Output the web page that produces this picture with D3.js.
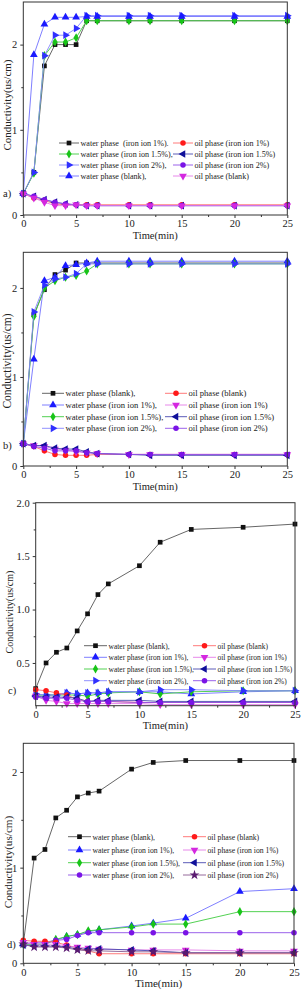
<!DOCTYPE html>
<html>
<head>
<meta charset="utf-8">
<script src="https://cdn.jsdelivr.net/npm/d3@7"></script>
<style>
body { margin: 0; background: #fff; }
svg { display: block; font-family: "Liberation Serif", "Times New Roman", serif; }
</style>
</head>
<body>
<svg width="302" height="992"></svg>
<script>
// sampling times (min), shared by every series
var times = [0, 1, 2, 3, 4, 5, 6, 7, 10, 12, 15, 20, 25];
var xTicks = [0, 5, 10, 15, 20, 25];

// panel a
var aWater1     = [0.25, 0.50, 1.75, 2.00, 2.00, 2.00, 2.28, 2.28, 2.28, 2.28, 2.28, 2.28, 2.28];
var aWater15    = [0.25, 0.49, 1.87, 2.03, 2.03, 2.08, 2.28, 2.28, 2.28, 2.28, 2.28, 2.28, 2.28];
var aWater2     = [0.25, 0.50, 1.87, 2.11, 2.11, 2.19, 2.34, 2.34, 2.34, 2.34, 2.34, 2.34, 2.34];
var aWaterBlank = [0.25, 1.88, 2.24, 2.32, 2.32, 2.32, 2.33, 2.33, 2.33, 2.33, 2.33, 2.33, 2.33];
var aOil1       = [0.25, 0.20, 0.17, 0.13, 0.12, 0.12, 0.12, 0.12, 0.12, 0.12, 0.12, 0.12, 0.12];
var aOil15      = [0.25, 0.22, 0.18, 0.15, 0.13, 0.12, 0.11, 0.11, 0.11, 0.11, 0.11, 0.11, 0.11];
var aOil2       = [0.25, 0.22, 0.18, 0.15, 0.13, 0.12, 0.11, 0.11, 0.11, 0.11, 0.11, 0.11, 0.11];
var aOilBlank   = [0.25, 0.20, 0.15, 0.11, 0.11, 0.12, 0.11, 0.11, 0.11, 0.11, 0.11, 0.11, 0.11];

// panel b
var bWaterBlank = [0.25, 1.70, 1.98, 2.15, 2.20, 2.28, 2.28, 2.28, 2.28, 2.28, 2.28, 2.28, 2.28];
var bWater1     = [0.25, 1.20, 2.08, 2.12, 2.25, 2.26, 2.28, 2.30, 2.30, 2.30, 2.30, 2.30, 2.30];
var bWater15    = [0.25, 1.68, 2.00, 2.08, 2.12, 2.14, 2.19, 2.27, 2.27, 2.27, 2.27, 2.27, 2.27];
var bWater2     = [0.25, 1.73, 2.03, 2.10, 2.12, 2.16, 2.27, 2.27, 2.27, 2.27, 2.27, 2.27, 2.27];
var bOilBlank   = [0.25, 0.22, 0.17, 0.13, 0.12, 0.12, 0.12, 0.13, 0.13, 0.13, 0.13, 0.13, 0.13];
var bOil1       = [0.25, 0.23, 0.22, 0.19, 0.18, 0.16, 0.15, 0.14, 0.13, 0.13, 0.13, 0.13, 0.13];
var bOil15      = [0.25, 0.23, 0.23, 0.20, 0.19, 0.19, 0.16, 0.14, 0.13, 0.12, 0.12, 0.12, 0.12];
var bOil2       = [0.25, 0.22, 0.20, 0.17, 0.17, 0.17, 0.15, 0.14, 0.13, 0.13, 0.13, 0.13, 0.13];

// panel c
var cWaterBlank = [0.26, 0.50, 0.60, 0.64, 0.80, 0.96, 1.14, 1.24, 1.41, 1.63, 1.75, 1.77, 1.80];
var cWater1     = [0.20, 0.20, 0.20, 0.22, 0.21, 0.22, 0.22, 0.23, 0.23, 0.23, 0.21, 0.23, 0.24];
var cWater15    = [0.20, 0.20, 0.20, 0.20, 0.20, 0.19, 0.21, 0.22, 0.23, 0.21, 0.23, 0.24, 0.24];
var cWater2     = [0.21, 0.20, 0.20, 0.22, 0.21, 0.22, 0.22, 0.23, 0.23, 0.25, 0.25, 0.24, 0.24];
var cOilBlank   = [0.25, 0.24, 0.22, 0.20, 0.16, 0.14, 0.14, 0.14, 0.13, 0.13, 0.13, 0.13, 0.13];
var cOil1       = [0.19, 0.15, 0.14, 0.12, 0.12, 0.12, 0.12, 0.12, 0.12, 0.11, 0.11, 0.11, 0.11];
var cOil15      = [0.19, 0.18, 0.18, 0.18, 0.17, 0.14, 0.15, 0.15, 0.15, 0.14, 0.14, 0.14, 0.14];
var cOil2       = [0.18, 0.17, 0.17, 0.17, 0.15, 0.14, 0.14, 0.14, 0.13, 0.13, 0.13, 0.13, 0.13];

// panel d
var dWaterBlank = [0.20, 1.10, 1.19, 1.52, 1.60, 1.74, 1.78, 1.80, 2.03, 2.10, 2.12, 2.12, 2.12];
var dWater1     = [0.20, 0.20, 0.20, 0.24, 0.28, 0.30, 0.33, 0.35, 0.39, 0.42, 0.47, 0.75, 0.78];
var dWater15    = [0.20, 0.20, 0.20, 0.25, 0.28, 0.30, 0.34, 0.35, 0.38, 0.41, 0.41, 0.54, 0.54];
var dWater2     = [0.20, 0.22, 0.22, 0.24, 0.25, 0.29, 0.32, 0.32, 0.32, 0.32, 0.32, 0.32, 0.32];
var dOilBlank   = [0.24, 0.23, 0.23, 0.22, 0.19, 0.16, 0.13, 0.10, 0.10, 0.10, 0.10, 0.10, 0.10];
var dOil1       = [0.22, 0.20, 0.20, 0.20, 0.18, 0.17, 0.16, 0.15, 0.14, 0.14, 0.14, 0.13, 0.13];
var dOil15      = [0.19, 0.18, 0.18, 0.18, 0.17, 0.15, 0.15, 0.15, 0.14, 0.13, 0.11, 0.11, 0.11];
var dOil2       = [0.20, 0.17, 0.17, 0.17, 0.16, 0.14, 0.13, 0.13, 0.12, 0.12, 0.11, 0.11, 0.11];

var wLabels = ["water phase (blank),", "water phase (iron ion 1%),", "water phase (iron ion 1.5%),", "water phase (iron ion 2%),"];
var oLabels = ["oil phase (blank)", "oil phase (iron ion 1%)", "oil phase (iron ion 1.5%)", "oil phase (iron ion 2%)"];
var aWLabels = ["water phase  (iron ion 1%).", "water phase (iron ion 1.5%),", "water phase (iron ion 2%),", "water phase (blank),"];
var aOLabels = ["oil phase (iron ion 1%)", "oil phase (iron ion 1.5%)", "oil phase (iron ion 2%)", "oil phase (blank)"];

// marker styles: [symbol, rotation, area, fill, line colour]
var st = {
    blackSq:  [d3.symbolSquare, 0, 22, "#111", "#555"],
    redCirc:  [d3.symbolCircle, 0, 24, "#ff1a1a", "#ff6b6b"],
    blueUp:   [d3.symbolTriangle, 0, 26, "#1a1aff", "#7070ff"],
    greenDia: [d3.symbolDiamond, 0, 24, "#18c418", "#40cc40"],
    blueRight:[d3.symbolTriangle, 90, 26, "#3030ff", "#8585ff"],
    navyLeft: [d3.symbolTriangle, -90, 26, "#10109a", "#4a4ab0"],
    purpCirc: [d3.symbolCircle, 0, 24, "#7a14e6", "#9050e8"],
    magDown:  [d3.symbolTriangle, 180, 26, "#d428e0", "#e47ae8"],
    darkStar: [d3.symbolStar, 0, 30, "#5a1a70", "#8a5a90"]
};

var svg = d3.select("svg");

function marker(g, s, x, y) {
    g.append("path")
        .attr("d", d3.symbol().type(s[0]).size(s[2])())
        .attr("transform", "translate(" + x + "," + y + ") rotate(" + s[1] + ")")
        .attr("fill", s[3]);
}

function drawPanel(p) {
    var x = d3.scaleLinear().domain([0, 25]).range([p.left, p.right]);
    var y = d3.scaleLinear().domain(p.yDomain).range([p.bottom, p.top]);
    var g = svg.append("g");

    var line = d3.line()
        .x(function(d, i) { return x(times[i]); })
        .y(function(d) { return y(d); });

    // series (water first, then oil, in legend order)
    p.series.forEach(function(s) {
        g.append("path").attr("d", line(s.values))
            .attr("fill", "none").attr("stroke", s.style[4]).attr("stroke-width", 0.9);
        s.values.forEach(function(v, i) { marker(g, s.style, x(times[i]), y(v)); });
    });

    // frame
    g.append("rect").attr("x", p.left).attr("y", p.top)
        .attr("width", p.right - p.left).attr("height", p.bottom - p.top)
        .attr("fill", "none").attr("stroke", "#333").attr("stroke-width", 1);

    // axes
    g.append("g").attr("transform", "translate(0," + p.bottom + ")")
        .call(d3.axisBottom(x).tickValues(xTicks).tickSize(3).tickPadding(2).tickFormat(d3.format("d")));
    g.append("g").attr("transform", "translate(0," + p.bottom + ")")
        .call(d3.axisBottom(x).tickValues(d3.range(2.5, 25, 5)).tickSize(2).tickFormat(""));
    g.append("g").attr("transform", "translate(" + p.left + ",0)")
        .call(d3.axisLeft(y).tickValues(p.yTicks).tickSize(3).tickPadding(3).tickFormat(d3.format(p.yFormat)));
    g.append("g").attr("transform", "translate(" + p.left + ",0)")
        .call(d3.axisLeft(y).tickValues(p.yMinor).tickSize(2).tickFormat(""));
    g.selectAll(".domain").remove();
    g.selectAll(".tick line").attr("stroke", "#333");
    g.selectAll(".tick text").attr("font-family", "Liberation Serif").attr("font-size", 10.5).attr("fill", "#222");

    g.append("text").attr("x", (p.left + p.right) / 2).attr("y", p.bottom + 23.5)
        .attr("text-anchor", "middle").attr("font-size", p.xtSize).attr("fill", "#222")
        .text("Time(min)");
    g.append("text")
        .attr("transform", "translate(" + p.ytX + "," + p.ytY + ") rotate(-90)")
        .attr("text-anchor", "middle").attr("font-size", p.ytSize).attr("fill", "#222")
        .text("Conductivity(us/cm)");
    g.append("text").attr("x", p.tagX).attr("y", p.tagY).attr("font-size", 10.5).attr("fill", "#222").text(p.tag);

    // legend: two columns, water | oil
    var half = p.series.length / 2;
    for (var r = 0; r < half; r++) {
        [[p.series[r], p.lx1], [p.series[r + half], p.lx2]].forEach(function(e) {
            var s = e[0], lx = e[1], ly = p.rows[r];
            g.append("line").attr("x1", lx).attr("x2", lx + p.lLen).attr("y1", ly).attr("y2", ly)
                .attr("stroke", s.style[4]).attr("stroke-width", 0.9);
            marker(g, s.style, lx + p.lLen / 2, ly);
            g.append("text").attr("x", lx + p.lLen + 1.5).attr("y", ly + 2.8)
                .attr("font-size", p.lSize).attr("fill", "#222").attr("xml:space", "preserve").text(s.label);
        });
    }
}

function ser(values, label, style) { return { values: values, label: label, style: style }; }

drawPanel({
    left: 23.3, right: 287.3, top: 2, bottom: 215, yDomain: [0, 2.5],
    yTicks: [0, 1, 2], yMinor: [0.5, 1.5], yFormat: "d",
    xtSize: 10.5, ytX: 10.5, ytY: 105, ytSize: 11, tag: "a)", tagX: 3, tagY: 197,
    lx1: 59, lx2: 173, lLen: 20, lSize: 8.1, rows: [143, 154, 165, 176],
    series: [
        ser(aWater1, aWLabels[0], st.blackSq), ser(aWater15, aWLabels[1], st.greenDia),
        ser(aWater2, aWLabels[2], st.blueRight), ser(aWaterBlank, aWLabels[3], st.blueUp),
        ser(aOil1, aOLabels[0], st.redCirc), ser(aOil15, aOLabels[1], st.navyLeft),
        ser(aOil2, aOLabels[2], st.purpCirc), ser(aOilBlank, aOLabels[3], st.magDown)
    ]
});

drawPanel({
    left: 23.3, right: 287.3, top: 252.3, bottom: 466, yDomain: [0, 2.4],
    yTicks: [0, 1, 2], yMinor: [0.5, 1.5], yFormat: "d",
    xtSize: 10.5, ytX: 11, ytY: 361, ytSize: 11.5, tag: "b)", tagX: 3, tagY: 449,
    lx1: 42, lx2: 165, lLen: 22, lSize: 8.6, rows: [393.3, 405, 416.7, 428.3],
    series: [
        ser(bWaterBlank, wLabels[0], st.blackSq), ser(bWater1, wLabels[1], st.blueUp),
        ser(bWater15, wLabels[2], st.greenDia), ser(bWater2, wLabels[3], st.blueRight),
        ser(bOilBlank, oLabels[0], st.redCirc), ser(bOil1, oLabels[1], st.magDown),
        ser(bOil15, oLabels[2], st.navyLeft), ser(bOil2, oLabels[3], st.purpCirc)
    ]
});

drawPanel({
    left: 35.7, right: 295, top: 502.7, bottom: 705.7, yDomain: [0.1, 2.0],
    yTicks: [0.5, 1.0, 1.5, 2.0], yMinor: [0.25, 0.75, 1.25, 1.75], yFormat: ".1f",
    xtSize: 10.5, ytX: 13, ytY: 612, ytSize: 10, tag: "c)", tagX: 8, tagY: 694,
    lx1: 84, lx2: 193, lLen: 23, lSize: 7.5, rows: [645.7, 657.3, 669, 680.7],
    series: [
        ser(cWaterBlank, wLabels[0], st.blackSq), ser(cWater1, wLabels[1], st.blueUp),
        ser(cWater15, wLabels[2], st.greenDia), ser(cWater2, wLabels[3], st.blueRight),
        ser(cOilBlank, oLabels[0], st.redCirc), ser(cOil1, oLabels[1], st.magDown),
        ser(cOil15, oLabels[2], st.navyLeft), ser(cOil2, oLabels[3], st.purpCirc)
    ]
});

drawPanel({
    left: 23.3, right: 294, top: 743.3, bottom: 963.3, yDomain: [0, 2.3],
    yTicks: [0, 1, 2], yMinor: [0.5, 1.5], yFormat: "d",
    xtSize: 11, ytX: 12, ytY: 862, ytSize: 11.2, tag: "d)", tagX: 7, tagY: 948,
    lx1: 68, lx2: 183, lLen: 23, lSize: 7.7, rows: [836.7, 850, 862.7, 875],
    series: [
        ser(dWaterBlank, wLabels[0], st.blackSq), ser(dWater1, wLabels[1], st.blueUp),
        ser(dWater15, wLabels[2], st.greenDia), ser(dWater2, wLabels[3], st.purpCirc),
        ser(dOilBlank, oLabels[0], st.redCirc), ser(dOil1, oLabels[1], st.magDown),
        ser(dOil15, oLabels[2], st.navyLeft), ser(dOil2, oLabels[3], st.darkStar)
    ]
});
</script>
</body>
</html>
